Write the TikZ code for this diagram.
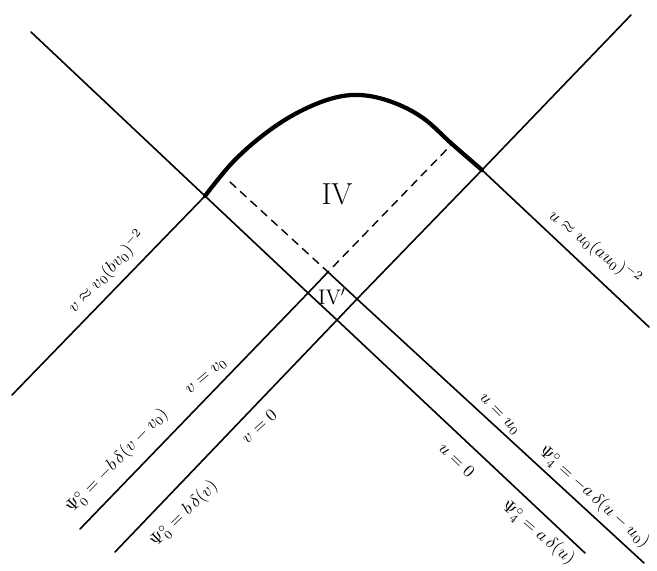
\documentclass[tikz,border=0pt]{standalone}
\usepackage{amsmath,amssymb}
\usepackage{tikz}

\begin{document}
\begin{tikzpicture}[x=0.02cm, y=-0.02cm, line join=round, line cap=round,
	nullray/.style={line width=0.9pt},
	boundary/.style={line width=2.4pt},
	extension/.style={line width=0.8pt, dash pattern=on 4.5pt off 3.5pt}]
	\useasboundingbox (0,0) rectangle (657,571);

	% Tọa độ các điểm
	\coordinate (Ua) at (31,32);
	\coordinate (Ub) at (585,553);
	\coordinate (Va) at (115,552);
	\coordinate (Vb) at (631,15);
	\coordinate (P) at (205,196);
	\coordinate (Q) at (482,170);
	\coordinate (L) at (308,293);
	\coordinate (T) at (328,272);
	\coordinate (R) at (357,299);
	\coordinate (B) at (337,320);
	\coordinate (Dv) at (12,395);
	\coordinate (Du) at (649,327);
	\coordinate (Ev) at (80,529);
	\coordinate (Eu) at (644,563);
	\coordinate (Xl) at (230,182);
	\coordinate (Xr) at (452,144);

	% Các đường u = const, v = const
	\draw[nullray] (Ua) -- (P) -- (L) -- (B) -- (Ub);
	\draw[nullray] (Va) -- (B) -- (R) -- (Q) -- (Vb);
	\draw[nullray] (T) -- (R) -- (Eu);
	\draw[nullray] (Ev) -- (L) -- (T);
	\draw[nullray] (Dv) -- (P);
	\draw[nullray] (Q) -- (Du);

	% Đường cong nét đậm
	\draw[boundary] plot[smooth, tension=0.6] coordinates {(P) (232,163) (262,136) (295,114) (330,99) (360,95) (392,102) (423,118) (Xr) (Q)};

	% Đường kéo dài nét đứt
	\draw[extension] (Xl) -- (T) -- (Xr);

	% Vùng
	\node (IV) at (337,194) {\LARGE IV};
	\node (IVp) at (332,297) {\large IV$'$};

	% Nhãn các đường
	\foreach \n/\x/\y/\a/\t in {
		vbig/107/272/47/{$v\approx v_0(bv_0)^{-2}$},
		ubig/595/248/-38/{$u\approx u_0(au_0)^{-2}$},
		vvo/207/377/40/{$v=v_0$},
		psiOa/117/461/46/{$\Psi^{\circ}_0=-b\,\delta(v-v_0)$},
		vzero/259/426/42/{$v=0$},
		psiOb/184/514/44/{$\Psi^{\circ}_0=b\,\delta(v)$},
		uuo/499/415/-45/{$u=u_0$},
		psiFa/594/497/-42/{$\Psi^{\circ}_4=-a\,\delta(u-u_0)$},
		uzero/457/460/-44/{$u=0$},
		psiFb/538/533/-40/{$\Psi^{\circ}_4=a\,\delta(u)$}} {
		\node[rotate=\a] (\n) at (\x,\y) {\t};
	}
\end{tikzpicture}
\end{document}
